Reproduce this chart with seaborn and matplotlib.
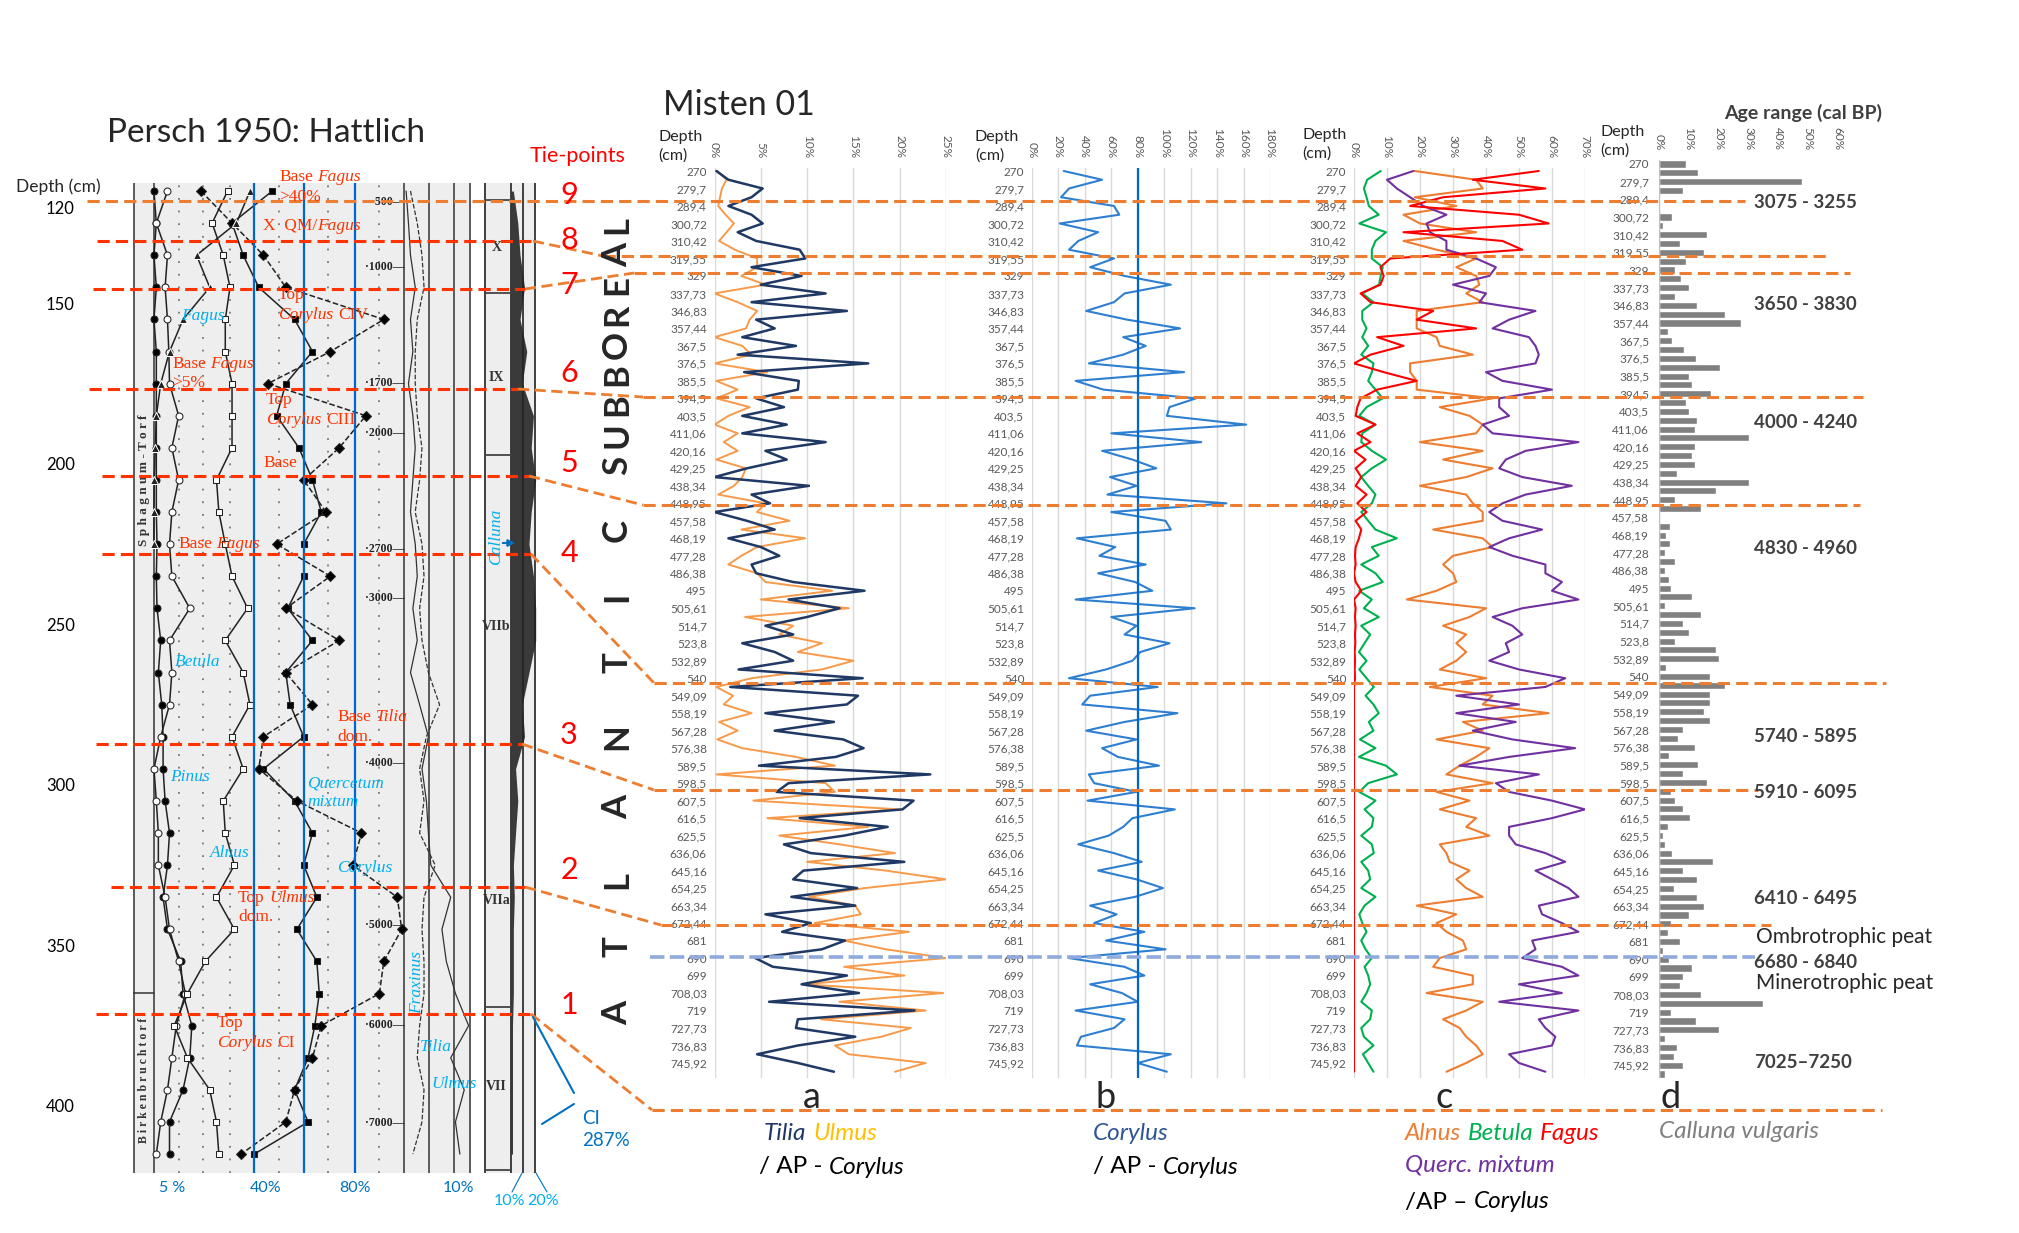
import numpy as np
import matplotlib

matplotlib.use("Agg")
import matplotlib.pyplot as plt
import seaborn as sns

W, H = 2019, 1233

# ---------------- Misten 01 (two samples per depth label) ----------------
DEPTH_LABELS = ["270", "279,7", "289,4", "300,72", "310,42", "319,55", "329", "337,73",
                "346,83", "357,44", "367,5", "376,5", "385,5", "394,5", "403,5", "411,06",
                "420,16", "429,25", "438,34", "448,95", "457,58", "468,19", "477,28",
                "486,38", "495", "505,61", "514,7", "523,8", "532,89", "540", "549,09",
                "558,19", "567,28", "576,38", "589,5", "598,5", "607,5", "616,5", "625,5",
                "636,06", "645,16", "654,25", "663,34", "672,44", "681", "690", "699",
                "708,03", "719", "727,73", "736,83", "745,92"]

TILIA = [0.2, 1.5, 5.2, 4.0, 1.5, 4.0, 5.2, 2.5, 4.5, 9.2, 9.8, 4.0, 9.4, 5.0, 12.0, 4.0,
         14.3, 4.5, 6.5, 3.0, 8.8, 2.5, 16.6, 3.2, 9.1, 9.0, 4.5, 7.5, 3.0, 7.8, 3.0, 12.0,
         5.5, 7.8, 3.5, 0.0, 10.2, 4.0, 6.0, 0.0, 3.5, 6.5, 1.5, 5.0, 7.0, 4.0, 4.5, 8.5,
         16.2, 8.0, 13.5, 10.0,
         5.5, 8.5, 3.0, 6.5, 8.5, 2.6, 16.0, 1.7, 15.5, 14.3, 5.5, 12.9, 6.5, 13.9, 16.1,
         13.1, 4.8, 23.3, 8.0, 6.7, 21.5, 20.3, 9.2, 18.7, 14.0, 7.5, 10.4, 20.5, 9.6, 8.5,
         15.4, 8.3, 15.2, 5.5, 10.4, 7.3, 14.1, 11.6, 4.4, 6.3, 14.3, 9.4, 15.6, 5.9, 21.6,
         9.0, 8.8, 15.2, 9.0, 4.6, 9.0, 12.9]
ULMUS = [0.3, 1.3, 0.8, 0.6, 0.4, 1.2, 2.1, 1.3, 0.5, 2.2, 4.6, 4.6, 2.9, 5.5, 0.0, 2.5,
         4.6, 3.8, 3.4, 0.0, 3.0, 4.0, 0.0, 5.7, 0.2, 2.5, 0.2, 3.8, 1.5, 0.0, 2.5, 1.0,
         2.5, 0.2, 3.4, 3.0, 2.1, 0.4, 5.5, 4.6, 8.1, 2.9, 9.8, 4.6, 2.9, 1.5, 4.6, 5.5,
         12.7, 5.0, 14.5, 3.3,
         8.5, 7.0, 11.6, 9.0, 15.0, 11.6, 4.0, 0.2, 2.0, 1.0, 4.0, 0.5, 2.5, 0.3, 3.0, 8.8,
         13.0, 0.2, 12.0, 13.0, 4.2, 20.0, 5.7, 16.6, 7.0, 13.5, 19.5, 10.0, 18.5, 25.0,
         16.2, 10.2, 15.2, 15.8, 10.8, 21.0, 14.0, 18.5, 25.0, 14.0, 20.5, 9.6, 24.7, 13.5,
         22.8, 11.5, 21.2, 18.0, 13.0, 14.5, 22.8, 19.5]
CORYLUS = [24, 53, 28, 22, 62, 66, 21, 50, 35, 28, 62, 44, 70, 105, 70, 62, 41, 72, 112, 69,
           86, 69, 43, 115, 33, 54, 124, 104, 102, 162, 60, 128, 53, 76, 94, 59, 79, 57, 147,
           60, 101, 105, 34, 63, 51, 86, 50, 78, 91, 33, 123, 60,
           79, 70, 104, 82, 76, 56, 28, 95, 44, 38, 110, 70, 41, 79, 53, 65, 96, 43, 47, 79,
           42, 108, 76, 69, 58, 35, 62, 83, 50, 79, 99, 78, 44, 64, 47, 85, 56, 101, 28, 70,
           85, 44, 68, 80, 33, 70, 62, 37, 34, 105, 80, 102]
ALNUS = [18.4, 37, 39, 18.4, 31, 15, 20, 37, 15, 25, 37, 31, 37, 38, 34, 39, 19, 19, 19, 25,
         26, 36, 17, 17, 19, 19, 42, 26, 35, 39, 37, 20, 39, 27, 42, 34, 20, 34, 36, 39, 39,
         24, 39, 42, 30, 27, 30, 31, 25, 16, 40, 35,
         27, 34, 31, 34, 31, 26, 40, 23, 42, 39, 59, 33, 39, 25, 41, 37, 32, 28, 42, 25, 35,
         26, 37, 34, 41, 26, 28, 29, 35, 31, 34, 39, 19, 31, 25, 28, 33, 34, 26, 24, 36, 36,
         22, 39, 34, 27, 32, 34, 37, 39, 34, 28]
BETULA = [8.1, 4.0, 3.0, 3.8, 4.5, 7.5, 1.6, 9.7, 6.5, 5.4, 5.4, 8.7, 8.1, 7.6, 2.5, 5.9,
          2.5, 2.5, 3.8, 2.5, 4.3, 2.2, 5.9, 5.4, 4.3, 6.5, 8.7, 3.8, 1.6, 6.5, 2.5, 2.2,
          5.4, 9.7, 5.4, 2.2, 4.3, 6.5, 5.4, 2.2, 4.3, 6.5, 13.0, 5.4, 7.5, 2.2, 6.5, 8.7,
          1.6, 5.4, 3.0, 7.5,
          2.2, 4.9, 3.2, 1.5, 3.8, 1.6, 3.8, 6.0, 3.5, 5.9, 7.5, 4.5, 5.9, 1.8, 6.5, 1.5,
          9.7, 13.0, 4.3, 1.6, 6.5, 3.2, 5.9, 5.4, 2.2, 5.4, 6.0, 2.2, 4.3, 4.9, 2.2, 6.5,
          3.2, 1.6, 2.5, 3.8, 2.2, 3.5, 5.4, 3.2, 4.3, 4.9, 3.8, 2.2, 5.4, 4.9, 2.2, 3.0,
          5.9, 2.7, 4.3, 5.9]
FAGUS = [56, 36, 58, 27, 17, 50, 59, 15, 45, 51, 11, 8, 9, 8, 2, 5, 24, 19, 37, 7, 15, 5,
         0, 9, 19, 7, 2, 1, 0.5, 6.5, 1, 5, 0, 3.5, 0.5, 2.2, 0.5, 3.8, 1, 3.8, 0.5, 2.2,
         1.5, 0.5, 0.3, 0.5, 0, 0.5, 2.2, 0, 0.5, 0.3,
         0.5, 0.3, 0.4, 0.2, 0.3, 0.2, 0.3,
         0, 0, 0, 0, 0, 0, 0, 0, 0, 0,
         0, 0, 0, 0, 0, 0, 0, 0, 0, 0,
         0, 0, 0, 0, 0, 0, 0, 0, 0, 0,
         0, 0, 0, 0, 0, 0, 0, 0, 0, 0,
         0, 0, 0, 0, 0]
QUERC = [18, 10, 13, 17, 21, 28, 22, 23, 28, 28, 37, 43, 41, 30, 40, 38, 55, 47, 42, 53, 55,
         56, 55, 40, 45, 60, 44, 44, 47, 39, 42, 68, 52, 46, 44, 51, 66, 52, 45, 41, 45, 57,
         47, 41, 48, 58, 58, 63, 60, 68, 51, 42,
         48, 51, 46, 47, 41, 50, 64, 58, 31, 50, 31, 49, 36, 48, 67, 47, 32, 56, 43, 47, 60,
         70, 60, 47, 47, 49, 58, 64, 55, 60, 65, 68, 56, 57, 63, 68, 54, 55, 51, 63, 68, 50,
         63, 44, 68, 56, 58, 61, 60, 47, 50, 58]
CALLUNA = [9, 13, 48, 8, 0.3, 0.3, 4.4, 1.5, 16, 7, 15, 9, 5.5, 7.5, 10, 5.5, 12.7, 22, 27.6,
           3, 4.5, 8.5, 12.5, 20.5, 10, 11, 17.5, 9, 10, 12.7, 12, 30, 12, 11, 12, 6, 30, 19,
           5.5, 14, 0.5, 3.8, 2.5, 3.8, 2, 5.5, 2, 3.5, 4, 11, 2, 14,
           8, 10, 5.5, 19, 20, 2.5, 17, 22, 17, 17, 15, 17, 8, 6.5, 12, 3.5, 13, 8, 16, 4,
           5.5, 8, 10.5, 3, 1.5, 2, 4.5, 18, 8, 12.7, 5, 12.7, 15, 10, 4, 3, 7, 1.5, 3.5, 11,
           8, 7, 14, 35, 4, 12.5, 20, 2, 6, 5, 8, 2]

AGE_RANGES = ["3075 - 3255", "3650 - 3830", "4000 - 4240", "4830 - 4960", "5740 - 5895",
              "5910 - 6095", "6410 - 6495", "6680 - 6840", "7025\u20137250"]

# ---------------- Persch 1950: Hattlich (scanned diagram) ----------------
SCAN_DEPTH = [115, 125, 135, 145, 155, 165, 175, 185, 195, 205, 215, 225, 235, 245, 255, 265,
              275, 285, 295, 305, 315, 325, 335, 345, 355, 365, 375, 385, 395, 405, 415]
S_PINUS = [6.2, 6.9, 6.2, 6.9, 6.2, 6.9, 6.9, 6.9, 6.9, 6.9, 6.9, 7.1, 6.9, 7.1, 8.2, 7.5,
           8.5, 8.9, 8.9, 9.5, 10.8, 10.2, 8.9, 10.2, 14.1, 14.8, 17.4, 16.8, 14.8, 10.8, 10.8]
S_BETULA = [10.2, 6.9, 10.2, 9.5, 10.2, 10.6, 10.8, 13.5, 11.5, 13.5, 11.5, 10.8, 11.5, 16.8,
            10.8, 11.5, 10.8, 8.2, 6.2, 6.9, 7.5, 7.5, 9.5, 10.8, 13.5, 15.5, 12.8, 11.5, 10.2,
            8.2, 6.9]
S_ALNUS = [28.0, 23.4, 26.7, 28.7, 27.3, 27.3, 29.3, 29.3, 29.3, 24.7, 25.4, 27.3, 29.3, 33.9,
           27.3, 32.6, 34.6, 29.3, 32.6, 26.7, 27.3, 30.0, 24.7, 30.0, 21.4, 16.1, 12.2, 16.1,
           22.7, 24.7, 25.4]
S_QM = [41.2, 29.3, 32.6, 37.2, 47.8, 53.1, 45.2, 42.5, 49.1, 53.1, 55.7, 50.5, 50.5, 45.8,
        53.1, 45.2, 46.5, 50.5, 38.6, 47.8, 53.1, 50.5, 54.4, 48.5, 54.4, 55.1, 53.8, 51.8,
        47.8, 51.8, 35.9]
S_CORYLUS = [20.1, 29.3, 38.6, 45.2, 74.2, 58.4, 39.9, 68.9, 61.0, 50.5, 57.1, 42.5, 58.4,
             45.2, 61.0, 45.2, 53.1, 38.6, 37.2, 48.5, 67.6, 65.0, 78.2, 79.5, 74.2, 72.9,
             55.7, 53.1, 47.8, 45.2, 32.0]
S_FAGUS = [34.6, 30.6, 18.8, 22.7, 14.8, 10.8, 8.2, 6.9, 6.6, 6.3, 6.2, 6.2]
S_TILIA = [80.8, 81.5, 82.1, 83.5, 82.1, 82.8, 81.5, 82.8, 83.5, 82.8, 82.1, 83.5, 84.1, 82.8,
           84.1, 82.1, 84.8, 87.4, 85.5, 86.8, 87.4, 88.1, 94.0, 91.4, 92.7, 95.4, 99.3, 94.0,
           98.0, 95.4, 96.7]
S_FRAXINUS = [82.1, 84.1, 85.5, 86.1, 84.1, 83.5, 83.5, 84.1, 85.5, 84.8, 83.5, 85.5, 86.1,
              84.8, 85.5, 87.4, 90.7, 86.8, 84.8, 86.1, 84.8, 89.4, 86.1, 85.5, 86.1, 86.1,
              84.8, 84.1, 86.1, 85.5, 82.8]
S_CALLUNA = [56.5, 65.0, 69.3, 77.9, 69.3, 82.2, 73.6, 95.1, 90.8, 99.4, 90.8, 86.5, 95.1,
             99.4, 99.4, 86.5, 73.6, 77.9, 60.7, 65.0, 60.7, 56.5, 58.3, 56.5, 56.5, 56.5, 54.8,
             54.8, 54.8, 54.8, 54.8]
SCAN_AGES = ["500", "1000", "1700", "2000", "2700", "3000", "4000", "5000", "6000", "7000"]
SCAN_AGE_DEPTH = [118.4, 138.7, 174.8, 190.4, 226.5, 241.8, 293.2, 343.6, 374.8, 405.4]
SCAN_DEPTH_TICKS = [120, 150, 200, 250, 300, 350, 400]
ZONES = ["X", "IX", "VIIb", "VIIa", "VII"]
ZONE_DEPTH = [132.5, 173.0, 250.8, 335.9, 394.1]

sns.set_style("white")
plt.rcParams["font.family"] = ["Lato", "DejaVu Sans"]
SERIF = ["Liberation Serif", "DejaVu Serif"]

fig = plt.figure(figsize=(W / 100, H / 100), dpi=100)


def px_axes(x0, y0, x1, y1, **kw):
    return fig.add_axes([x0 / W, 1 - y1 / H, (x1 - x0) / W, (y1 - y0) / H], **kw)


# ---------------- scanned diagram ----------------
sc = px_axes(133, 183, 471, 1173, facecolor="#EEEEEE")
sc.set_xlim(0, 100)
sc.set_ylim(420.9, 112.5)
for xv in [13.6, 20.7, 28.7, 43.2, 57.7, 72.8]:
    sc.axvline(xv, color="#777777", lw=1.3, ls=(0, (1, 6)), zorder=1)
for xv in [0.3, 6.2, 80.2, 87.6, 95.0, 99.7]:
    sc.axvline(xv, color="#333333", lw=1.1, zorder=2)
sc.plot([0, 6.2], [364.9, 364.9], color="#333333", lw=1.1)
for vals, mk, mfc, ls in [(S_PINUS, "o", "black", "-"), (S_BETULA, "o", "white", "-"),
                          (S_ALNUS, "s", "white", "-"), (S_QM, "s", "black", "-"),
                          (S_CORYLUS, "D", "black", "--")]:
    sns.lineplot(x=vals, y=SCAN_DEPTH, orient="y", sort=False, estimator=None, ax=sc,
                 color="#222222", lw=1.1, marker=mk, markersize=5, markerfacecolor=mfc,
                 markeredgecolor="#222222", zorder=4)
    sc.lines[-1].set_linestyle(ls)
sns.lineplot(x=S_FAGUS, y=SCAN_DEPTH[:len(S_FAGUS)], orient="y", sort=False, estimator=None,
             ax=sc, color="#222222", lw=1.1, marker="^", markersize=6, zorder=4)
sns.lineplot(x=S_TILIA, y=SCAN_DEPTH, orient="y", sort=False, estimator=None, ax=sc,
             color="#333333", lw=0.9)
sns.lineplot(x=S_FRAXINUS, y=SCAN_DEPTH, orient="y", sort=False, estimator=None, ax=sc,
             color="#333333", lw=0.9)
sc.lines[-1].set_linestyle("--")
for a, d in zip(SCAN_AGES, SCAN_AGE_DEPTH):
    sc.text(80.2, d, f"\u00b7{a}\u2014", ha="right", va="center", fontsize=8.5,
            fontweight="bold", color="#222222", family=SERIF)
sc.text(3.2, 205, "S p h a g n u m - T o r f", rotation=90, ha="center", va="center",
        fontsize=9.5, fontweight="bold", color="#333333", family=SERIF)
sc.text(3.2, 392, "B i r k e n b r u c h t o r f", rotation=90, ha="center", va="center",
        fontsize=8.5, fontweight="bold", color="#333333", family=SERIF)
for xv in [35.8, 50.6, 65.7]:
    sc.axvline(xv, color="#0066CC", lw=1.6, zorder=5)
sc.set_yticks(SCAN_DEPTH_TICKS)
sc.set_yticklabels([str(t) for t in SCAN_DEPTH_TICKS])
sc.tick_params(axis="y", length=0, pad=42, labelsize=12, labelcolor="black")
sc.set_xticks([11.5, 39.3, 65.7, 96.2])
sc.set_xticklabels(["5 %", "40%", "80%", "10%"])
sc.tick_params(axis="x", length=0, pad=6, labelsize=11.5, labelcolor="#0070C0")
sc.set_xlabel("")
sc.set_ylabel("")
for s in sc.spines.values():
    s.set_visible(False)

st = px_axes(484, 183, 536, 1173, facecolor="#EEEEEE")
st.set_xlim(0, 100)
st.set_ylim(420.9, 112.5)
st.fill_betweenx(SCAN_DEPTH, 52, S_CALLUNA, color="#3A3A3A", lw=0)
for xv in [1, 52, 75, 99]:
    st.axvline(xv, color="#222222", lw=1.2)
for d in [117.8, 146.8, 197.3, 369.2, 420.0]:
    st.plot([0, 52], [d, d], color="#444444", lw=1.3)
for z, d in zip(ZONES, ZONE_DEPTH):
    st.text(24, d, z, ha="center", va="center", fontsize=10, fontweight="bold",
            color="#333333", family=SERIF)
st.set_xticks([])
st.set_yticks([])
for s in st.spines.values():
    s.set_visible(False)


# ---------------- Misten 01 panels ----------------
def misten_axes(x0, x1, y0, xmax, step, origin, spacing, grid=True):
    ax = px_axes(x0, y0, x1, 1078)
    ax.patch.set_alpha(0)
    return ax, (xmax, step, origin, spacing, y0, grid)


def style_misten(ax, spec, pad=5.5):
    xmax, step, origin, spacing, y0, grid = spec
    ax.set_xlim(0, xmax)
    ax.set_ylim((1078 - origin) / spacing, (y0 - origin) / spacing)
    ticks = list(range(0, xmax + 1, step))
    ax.set_xticks(ticks)
    ax.set_xticklabels([f"{t}%" for t in ticks], rotation=-90)
    ax.xaxis.tick_top()
    ax.tick_params(axis="x", length=0, pad=7, labelsize=8.5, labelcolor="#595959")
    ax.set_yticks(range(len(DEPTH_LABELS)))
    ax.set_yticklabels(DEPTH_LABELS)
    ax.tick_params(axis="y", length=0, pad=pad, labelsize=8.5, labelcolor="#595959")
    for s in ax.spines.values():
        s.set_visible(False)
    ax.grid(False)
    if grid:
        ax.grid(axis="x", color="#D9D9D9", lw=1.0)
    ax.set_xlabel("")
    ax.set_ylabel("")


pos = np.arange(len(TILIA)) / 2

ax_a, spec_a = misten_axes(714.5, 946, 168, 25, 5, 171, 17.49)
for vals, col, lw in [(ULMUS, "#F79A4A", 1.4), (TILIA, "#1F3864", 1.8)]:
    sns.lineplot(x=vals, y=pos, orient="y", sort=False, estimator=None, ax=ax_a,
                 color=col, lw=lw)
style_misten(ax_a, spec_a)

ax_b, spec_b = misten_axes(1032, 1270, 168, 180, 20, 171, 17.49)
sns.lineplot(x=CORYLUS, y=pos, orient="y", sort=False, estimator=None, ax=ax_b,
             color="#2E7FD0", lw=1.5)
ax_b.axvline(80, color="#0066CC", lw=1.6)
style_misten(ax_b, spec_b)

ax_c, spec_c = misten_axes(1354, 1585, 168, 70, 10, 171, 17.49)
for vals, col in [(BETULA, "#00B050"), (ALNUS, "#ED7D31"), (QUERC, "#7030A0"),
                  (FAGUS, "#FF0000")]:
    sns.lineplot(x=vals, y=pos, orient="y", sort=False, estimator=None, ax=ax_c,
                 color=col, lw=1.5)
style_misten(ax_c, spec_c)

ax_d, spec_d = misten_axes(1659, 1838, 160, 60, 10, 164, 17.67, grid=False)
sns.barplot(x=CALLUNA, y=pos, orient="h", native_scale=True, color="#808080",
            saturation=1, width=0.8, errorbar=None, ax=ax_d)
style_misten(ax_d, spec_d, pad=7)
ax_d.axvline(0, color="#BFBFBF", lw=1.0)

# ---------------- overlay: tie lines and text ----------------
ov = fig.add_axes([0, 0, 1, 1], zorder=10)
ov.set_xlim(0, W)
ov.set_ylim(H, 0)
ov.axis("off")
ov.patch.set_alpha(0)

RED_LINE = "#FF3300"
ORANGE = "#ED7D31"
DASH = (0, (4, 2))
TIE_Y_LEFT = [1014, 887, 744, 554, 476, 389, 289, 241]
TIE_X0 = [96, 111, 96, 102, 102, 89, 93, 97]
TIE_X1 = [531, 525, 522, 531, 529, 518, 525, 533]
TIE_JOIN_X = [652, 661, 654, 654, 643, 643, 634, 603]
TIE_Y_RIGHT = [1110, 925, 790, 683, 505, 397, 273, 256]
TIE_X_END = [1882, 1771, 1758, 1886, 1860, 1863, 1850, 1830]
for yl, x0, x1, xj, yr, xe in zip(TIE_Y_LEFT, TIE_X0, TIE_X1, TIE_JOIN_X, TIE_Y_RIGHT,
                                  TIE_X_END):
    ov.plot([x0, x1], [yl, yl], color=RED_LINE, lw=2.2, ls=DASH)
    ov.plot([x1, xj], [yl, yr], color=ORANGE, lw=2.0, ls=DASH)
    ov.plot([xj, xe], [yr, yr], color=ORANGE, lw=2.2, ls=DASH)
ov.plot([87, 1745], [201, 201], color=ORANGE, lw=2.2, ls=DASH)
ov.plot([650, 1755], [957, 957], color="#8FAADC", lw=2.6, ls=(0, (4, 1.5)))

for n, y in zip(range(1, 10), [1005, 870, 735, 553, 463, 373, 285, 240, 195]):
    ov.text(569, y, str(n), color="#FF0000", fontsize=22, ha="center", va="center")

for ch, y in zip("SUBBOREAL", [465, 435, 405, 375, 345, 315, 285, 255, 225]):
    ov.text(617, y, ch, rotation=90, fontsize=25, fontweight="bold", ha="center",
            va="center")
for ch, y in zip("ATLANTIC", [1013, 947, 880, 807, 737, 663, 597, 530]):
    ov.text(617, y, ch, rotation=90, fontsize=25, fontweight="bold", ha="center",
            va="center")

ov.text(266, 133, "Persch 1950: Hattlich", fontsize=24, ha="center", va="center")
ov.text(663, 105, "Misten 01", fontsize=24.5, ha="left", va="center")
ov.text(578, 156, "Tie-points", fontsize=15.5, color="#FF0000", ha="center", va="center")
ov.text(16, 187, "Depth (cm)", fontsize=12.5, ha="left", va="center")
for x, y in [(658, 137), (975, 137), (1302, 135), (1600, 132)]:
    ov.text(x, y, "Depth", fontsize=11.5, ha="left", va="center")
    ov.text(x, y + 19, "(cm)", fontsize=11.5, ha="left", va="center")
ov.text(1724, 113, "Age range (cal BP)", fontsize=14, fontweight="bold", color="#404040",
        ha="left", va="center")
for lab, y in zip(AGE_RANGES, [202, 305, 423, 548, 737, 793, 898, 962, 1063]):
    ov.text(1754, y, lab, fontsize=13.5, fontweight="bold", color="#404040", ha="left",
            va="center")
ov.text(1756, 937, "Ombrotrophic peat", fontsize=15, ha="left", va="center")
ov.text(1756, 983, "Minerotrophic peat", fontsize=15, ha="left", va="center")
for lab, x in zip("abcd", [812, 1106, 1444, 1671]):
    ov.text(x, 1097, lab, fontsize=26, ha="center", va="center")

renderer = fig.canvas.get_renderer()


def rich(x, y, parts, size, family=None, rotation=0):
    em = size * 100 / 72
    for txt, color, italic, space in parts:
        kw = {"family": family} if family else {}
        t = ov.text(x, y, txt, color=color, fontsize=size,
                    fontstyle="italic" if italic else "normal", ha="left", va="center",
                    rotation=rotation, **kw)
        x += t.get_window_extent(renderer=renderer).width + (0.27 * em if space else 0)


K = "black"
LEG = 17.5
rich(764, 1133, [("Tilia", "#1F3864", True, True), ("Ulmus", "#FFC000", True, False)], LEG)
rich(759, 1167, [("/ AP -", K, False, True), ("Corylus", K, True, False)], LEG)
rich(1093, 1133, [("Corylus", "#2F5597", True, False)], LEG)
rich(1093, 1167, [("/ AP -", K, False, True), ("Corylus", K, True, False)], LEG)
rich(1405, 1133, [("Alnus", "#ED7D31", True, True), ("Betula", "#00B050", True, True),
                  ("Fagus", "#FF0000", True, False)], LEG)
rich(1405, 1165, [("Querc. mixtum", "#7030A0", True, False)], LEG)
rich(1405, 1202, [("/AP \u2013", K, False, True), ("Corylus", K, True, False)], LEG)
rich(1659, 1131, [("Calluna vulgaris", "#7F7F7F", True, False)], LEG)

# annotations on the scanned diagram
R = "#FF3300"
B = "#00B0F0"
SCAN_NOTES = [
    (279, 177, [("Base", R, False, True), ("Fagus", R, True, False)]),
    (279, 197, [(">40%", R, False, False)]),
    (263, 226, [("X  QM/", R, False, False), ("Fagus", R, True, False)]),
    (278, 295, [("Top", R, False, False)]),
    (278, 315, [("Corylus", R, True, True), ("CIV", R, False, False)]),
    (172, 364, [("Base", R, False, True), ("Fagus", R, True, False)]),
    (172, 383, [(">5%", R, False, False)]),
    (266, 400, [("Top", R, False, False)]),
    (266, 420, [("Corylus", R, True, True), ("CIII", R, False, False)]),
    (263, 463, [("Base", R, False, False)]),
    (178, 544, [("Base", R, False, True), ("Fagus", R, True, False)]),
    (337, 717, [("Base", R, False, True), ("Tilia", R, True, False)]),
    (337, 737, [("dom.", R, False, False)]),
    (238, 898, [("Top", R, False, True), ("Ulmus", R, True, False)]),
    (238, 917, [("dom.", R, False, False)]),
    (217, 1023, [("Top", R, False, False)]),
    (217, 1043, [("Corylus", R, True, True), ("CI", R, False, False)]),
    (181, 316, [("Fagus", B, True, False)]),
    (175, 662, [("Betula", B, True, False)]),
    (170, 777, [("Pinus", B, True, False)]),
    (307, 783, [("Quercetum", B, True, False)]),
    (307, 802, [("mixtum", B, True, False)]),
    (210, 853, [("Alnus", B, True, False)]),
    (337, 868, [("Corylus", B, True, False)]),
    (420, 1047, [("Tilia", B, True, False)]),
    (431, 1084, [("Ulmus", B, True, False)]),
]
for x, y, parts in SCAN_NOTES:
    rich(x, y, parts, 12.5, family=SERIF)
ov.text(496, 537, "Calluna", rotation=90, color=B, fontsize=12.5, fontstyle="italic",
        family=SERIF, ha="center", va="center")
ov.text(417, 983, "Fraxinus", rotation=90, color=B, fontsize=12.5, fontstyle="italic",
        family=SERIF, ha="center", va="center")
ov.annotate("", xy=(518, 543), xytext=(500, 543),
            arrowprops=dict(arrowstyle="-|>", color="#0070C0", lw=1.5))
ov.plot([533, 574], [1017, 1093], color="#0070C0", lw=1.5)
ov.plot([542, 574], [1124, 1104], color="#0070C0", lw=1.5)
ov.text(582, 1118, "CI", color="#0070C0", fontsize=13.5, ha="left", va="center")
ov.text(582, 1141, "287%", color="#0070C0", fontsize=13.5, ha="left", va="center")
ov.plot([512, 522], [1192, 1173], color="#0070C0", lw=0.8)
ov.plot([547, 536], [1192, 1173], color="#0070C0", lw=0.8)
ov.text(509, 1201, "10%", color=B, fontsize=11.5, ha="center", va="center")
ov.text(543, 1201, "20%", color=B, fontsize=11.5, ha="center", va="center")

fig.savefig("out.png", dpi=100)
